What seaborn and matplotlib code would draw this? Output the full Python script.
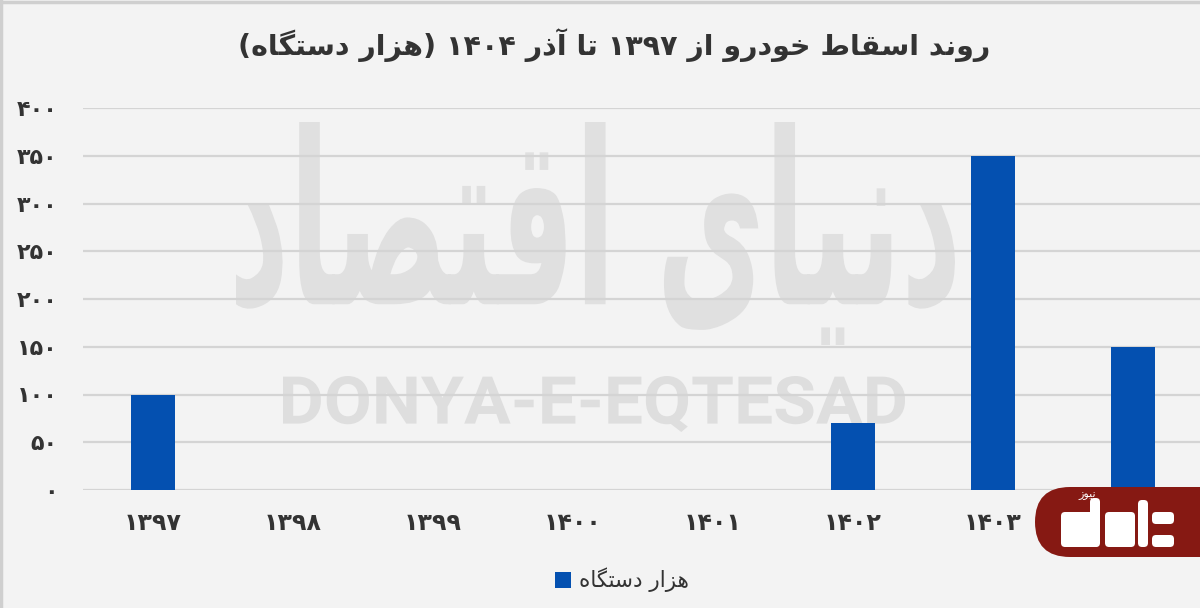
import re

import matplotlib
matplotlib.use("Agg")
import matplotlib.pyplot as plt
import matplotlib.transforms as mtransforms
from matplotlib.font_manager import FontProperties
from matplotlib.lines import Line2D
from matplotlib.patches import FancyBboxPatch, PathPatch
from matplotlib.textpath import TextPath
import seaborn as sns

# data (thousand vehicles)
years = ['۱۳۹۷', '۱۳۹۸', '۱۳۹۹', '۱۴۰۰', '۱۴۰۱', '۱۴۰۲', '۱۴۰۳', '۱۴۰۴']
scrapped = [100, 0, 0, 0, 0, 70, 350, 150]
ytick_vals = [0, 50, 100, 150, 200, 250, 300, 350, 400]
ytick_labels = ['۰', '۵۰', '۱۰۰', '۱۵۰', '۲۰۰', '۲۵۰', '۳۰۰', '۳۵۰', '۴۰۰']
title = 'روند اسقاط خودرو از ۱۳۹۷ تا آذر ۱۴۰۴ (هزار دستگاه)'
series_name = 'هزار دستگاه'

# minimal persian shaping: isolated, final, initial, medial
FORMS = {
    'ا': ('\uFE8D', '\uFE8E', None, None),
    'آ': ('\uFE81', '\uFE82', None, None),
    'ت': ('\uFE95', '\uFE96', '\uFE97', '\uFE98'),
    'خ': ('\uFEA5', '\uFEA6', '\uFEA7', '\uFEA8'),
    'د': ('\uFEA9', '\uFEAA', None, None),
    'ذ': ('\uFEAB', '\uFEAC', None, None),
    'ر': ('\uFEAD', '\uFEAE', None, None),
    'ز': ('\uFEAF', '\uFEB0', None, None),
    'س': ('\uFEB1', '\uFEB2', '\uFEB3', '\uFEB4'),
    'ص': ('\uFEB9', '\uFEBA', '\uFEBB', '\uFEBC'),
    'ط': ('\uFEC1', '\uFEC2', '\uFEC3', '\uFEC4'),
    'ق': ('\uFED5', '\uFED6', '\uFED7', '\uFED8'),
    'ن': ('\uFEE5', '\uFEE6', '\uFEE7', '\uFEE8'),
    'ه': ('\uFEE9', '\uFEEA', '\uFEEB', '\uFEEC'),
    'و': ('\uFEED', '\uFEEE', None, None),
    'ی': ('\uFBFC', '\uFBFD', '\uFBFE', '\uFBFF'),
    'گ': ('\uFB92', '\uFB93', '\uFB94', '\uFB95'),
}


def fa(text):
    out = []
    for i, c in enumerate(text):
        if c not in FORMS:
            out.append(c)
            continue
        f = FORMS[c]
        prev = text[i - 1] if i > 0 else ''
        nxt = text[i + 1] if i + 1 < len(text) else ''
        jp = prev in FORMS and FORMS[prev][2] is not None
        jn = nxt in FORMS and f[2] is not None
        if jp and jn:
            out.append(f[3])
        elif jp:
            out.append(f[1])
        elif jn:
            out.append(f[2])
        else:
            out.append(f[0])
    s = ''.join(out)[::-1]
    s = re.sub('[\u06F0-\u06F9]+', lambda m: m.group(0)[::-1], s)
    return s.translate(str.maketrans('()', ')('))


sns.set_theme(style="white")
plt.rcParams['font.family'] = ['DejaVu Sans']

BG = '#f3f3f3'
BLUE = '#0450b0'
TXT = '#333333'
W, H = 1200, 608

fig = plt.figure(figsize=(12, 6.08), dpi=100, facecolor=BG)
ax = fig.add_axes([83 / W, 1 - 490 / H, 1120 / W, 382 / H])
ax.set_facecolor('none')


def stretched(s, prop, box, color):
    # draw text squeezed into a pixel box (x0, y0, x1, y1), image coords
    x0, y0, x1, y1 = box
    tp = TextPath((0, 0), s, size=100, prop=prop)
    ext = tp.get_extents()
    tr = (mtransforms.Affine2D().translate(-ext.x0, -ext.y0)
          .scale((x1 - x0) / ext.width, (y1 - y0) / ext.height)
          .translate(x0, H - y1))
    fig.add_artist(PathPatch(tr.transform_path(tp), color=color, lw=0,
                             zorder=-1, transform=mtransforms.IdentityTransform()))


# watermarks
stretched('DONYA-E-EQTESAD', FontProperties(family='Roboto', weight='bold'),
          (283, 376, 905, 432), '#dedede')
stretched(fa('دنیای اقتصاد'), FontProperties(family='DejaVu Sans', weight='bold'),
          (236, 122, 955, 345), '#e0e0e0')

sns.barplot(x=years, y=scrapped, color=BLUE, width=0.32, saturation=1,
            linewidth=0, label=fa(series_name), ax=ax, zorder=3)

ax.set_ylim(0, 400)
ax.set_xlim(-0.5, len(years) - 0.5)
ax.set_yticks(ytick_vals)
ax.set_yticklabels(ytick_labels, fontweight='bold')
ax.set_xticks(range(len(years)))
ax.set_xticklabels(years, fontweight='bold')
ax.yaxis.grid(True, color='#d4d4d4', linewidth=1.6, zorder=1)
ax.set_axisbelow(True)
for sp in ax.spines.values():
    sp.set_visible(False)
ax.tick_params(axis='y', length=0, pad=18.5, labelsize=16, labelcolor=TXT)
ax.tick_params(axis='x', length=0, pad=15, labelsize=17, labelcolor=TXT)
ax.set_xlabel('')
ax.set_ylabel('')

fig.text(0.512, 1 - 45 / H, fa(title), ha='center', va='center',
         fontsize=20.5, fontweight='bold', color=TXT)

ax.legend(loc='center', bbox_to_anchor=(622 / W, 1 - 580 / H),
          bbox_transform=fig.transFigure, frameon=False, fontsize=15.5,
          handlelength=0.75, handleheight=0.75, handletextpad=0.4,
          labelcolor=TXT)

# page border on top and left
for xs, ys in [([0, 1], [0.9975, 0.9975]), ([0.0012, 0.0012], [0, 1])]:
    fig.add_artist(Line2D(xs, ys, transform=fig.transFigure,
                          color='#cfcfcf', linewidth=2.5, zorder=10))

# logo badge bottom right
fig.add_artist(FancyBboxPatch((1035, H - 557), 220, 70,
                              boxstyle='round,pad=0,rounding_size=35',
                              facecolor='#861913', edgecolor='none', zorder=20,
                              transform=mtransforms.IdentityTransform()))
for (x0, y0, w, h) in [(1061, 512, 38, 35), (1090, 498, 10, 49),
                       (1105, 512, 30, 35), (1138, 500, 10, 47),
                       (1152, 512, 22, 12), (1152, 535, 22, 12)]:
    fig.add_artist(FancyBboxPatch((x0, H - y0 - h), w, h,
                                  boxstyle='round,pad=0,rounding_size=4',
                                  facecolor='white', edgecolor='none', zorder=21,
                                  transform=mtransforms.IdentityTransform()))
fig.text(1087 / W, 1 - 495 / H, fa('نیوز'), ha='center', va='center',
         fontsize=8, color='white', zorder=22)

fig.savefig('out.png', dpi=100, facecolor=BG)
